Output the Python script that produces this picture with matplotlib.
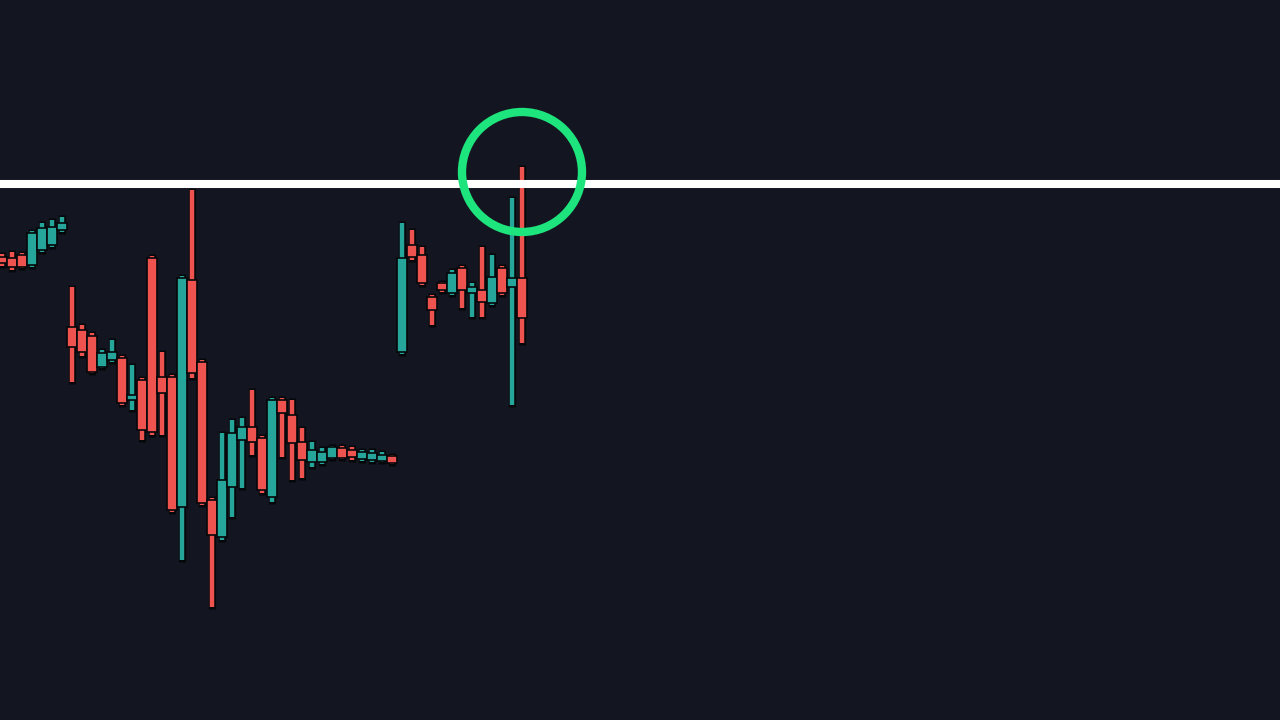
import numpy as np
import matplotlib
matplotlib.use("Agg")
import matplotlib.pyplot as plt
from matplotlib.patches import Rectangle, Ellipse

# candle data (price units), one candle per bar
opens = [463, 462, 465, 455, 470, 475, 490,
         393, 390, 384, 353, 360, 362, 320, 340, 462, 343, 343, 213, 440,
         358, 220, 183, 233, 280, 293, 282, 223, 320, 305, 278, 258, 258,
         262, 272, 270, 261, 260, 259, 264,
         368, 475, 465, 423, 437, 427, 452, 427, 430, 417, 452, 433, 442]
closes = [457, 453, 453, 487, 492, 493, 497,
          373, 368, 348, 367, 368, 317, 325, 290, 288, 327, 210, 442, 347,
          217, 185, 240, 287, 293, 278, 230, 320, 307, 277, 260, 270, 268,
          273, 262, 263, 268, 267, 265, 257,
          462, 463, 437, 410, 430, 447, 430, 433, 418, 443, 427, 442, 402]
highs = [466, 468, 467, 489, 497, 500, 503,
         433, 395, 387, 370, 380, 364, 355, 342, 464, 368, 345, 444, 530,
         360, 222, 287, 300, 302, 330, 284, 322, 322, 320, 292, 278, 272,
         274, 274, 273, 270, 270, 268, 265,
         497, 490, 473, 425, 438, 450, 454, 437, 473, 465, 454, 522, 553]
lows = [454, 450, 452, 453, 468, 473, 488,
        338, 364, 347, 352, 358, 315, 310, 280, 285, 285, 208, 160, 342,
        215, 113, 180, 203, 232, 265, 227, 218, 263, 240, 242, 253, 256,
        261, 261, 260, 259, 258, 258, 256,
        366, 460, 435, 395, 428, 425, 412, 403, 403, 415, 425, 315, 377]

resistance = 536
highlight_bar = 52
highlight_price = 548

BG = "#131620"
UP = "#26a69a"
DOWN = "#ef5350"
EDGE = "#05070a"

fig = plt.figure(figsize=(12.8, 7.2), dpi=100, facecolor=BG)
ax = fig.add_axes([0, 0, 1, 1])
ax.set_facecolor(BG)

x = np.arange(len(opens))
w = 1.0
for i in x:
    o, c, h, l = opens[i], closes[i], highs[i], lows[i]
    col = UP if c >= o else DOWN
    # dark outline around the wick, then the wick itself
    ax.plot([i, i], [l - 2, h + 2], color=EDGE, lw=5.2,
            solid_capstyle="butt", zorder=2)
    ax.plot([i, i], [l, h], color=col, lw=3.2, solid_capstyle="butt", zorder=3)
    bottom = min(o, c)
    height = max(abs(c - o), 4)
    ax.add_patch(Rectangle((i - w / 2, bottom), w, height, facecolor=col,
                           edgecolor=EDGE, lw=1.2, zorder=4))

ax.axhline(resistance, color="white", lw=5.8, zorder=5)
ax.add_patch(Ellipse((highlight_bar, highlight_price), 12, 120, fill=False,
                     edgecolor="#1de47c", lw=6.0, zorder=6))

ax.set_xlim(-0.2, 127.8)
ax.set_ylim(0, 720)
ax.axis("off")

fig.savefig("out.png", dpi=100, facecolor=BG)
